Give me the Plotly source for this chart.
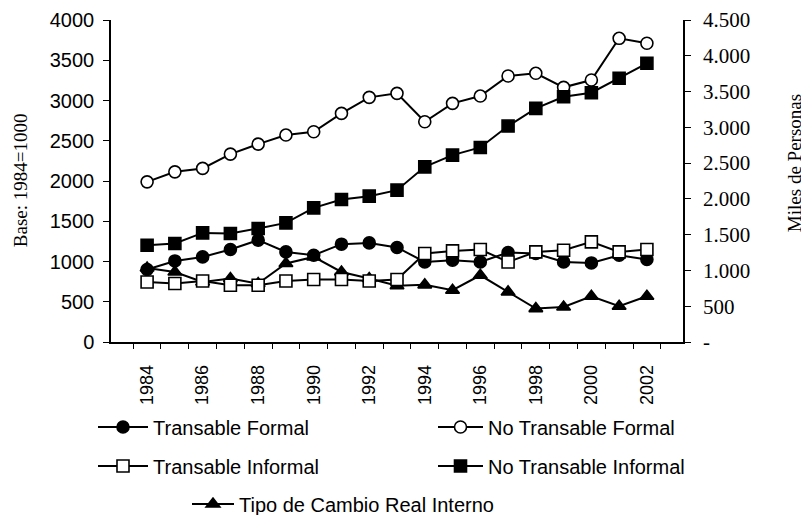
import plotly.graph_objects as go

years = list(range(1984, 2003))
transable_formal = [1013, 1133, 1189, 1293, 1423, 1259, 1213, 1367, 1385, 1321,
                    1119, 1143, 1119, 1251, 1237, 1119, 1105, 1213, 1153]
no_transable_formal = [2238, 2378, 2426, 2626, 2766, 2892, 2938, 3195, 3419, 3475,
                       3078, 3335, 3437, 3717, 3755, 3559, 3661, 4244, 4175]
transable_informal = [839, 817, 853, 793, 793, 853, 873, 873, 853, 873,
                      1237, 1273, 1293, 1119, 1259, 1283, 1399, 1259, 1293]
no_transable_informal = [1353, 1377, 1525, 1517, 1587, 1665, 1875, 1992, 2038, 2122,
                         2448, 2612, 2719, 3018, 3265, 3428, 3484, 3685, 3895]
tipo_cambio = [920, 870, 746, 788, 726, 975, 1057, 870, 788, 700,
               710, 643, 829, 622, 415, 435, 568, 444, 568]

year_labels = [str(y) for y in years]
year_ticktext = [str(y) if (y - 1984) % 2 == 0 else "" for y in years]
left_ticks = list(range(0, 4001, 500))
right_ticks = list(range(0, 4501, 500))
right_ticktext = ["-", "500", "1.000", "1.500", "2.000", "2.500", "3.000", "3.500", "4.000", "4.500"]

SANS = "Arial, Liberation Sans, sans-serif"
SERIF = "Times New Roman, Liberation Serif, serif"

W, H = 801, 507

fig = go.Figure()

def add(name, vals, symbol, fill, yaxis, legend):
    fig.add_trace(go.Scatter(
        x=year_labels, y=vals, name=name, mode="lines+markers", yaxis=yaxis,
        line=dict(color="black", width=2),
        marker=dict(symbol=symbol, size=12, color=fill,
                    line=dict(color="black", width=1.6)),
        legend=legend,
    ))

add("Transable Formal", transable_formal, "circle", "black", "y2", "legend")
add("No Transable Formal", no_transable_formal, "circle", "white", "y2", "legend2")
add("Transable Informal", transable_informal, "square", "white", "y2", "legend3")
add("No Transable Informal", no_transable_informal, "square", "black", "y2", "legend4")
add("Tipo de Cambio Real Interno", tipo_cambio, "triangle-up", "black", "y", "legend5")

def leg(x, y, iw):
    return dict(font=dict(family=SANS, size=20, color="black"),
                bgcolor="rgba(0,0,0,0)", xref="container", yref="container",
                xanchor="left", yanchor="middle", x=x / W, y=1 - y / H,
                itemwidth=iw)

n = len(years)
boundaries = [i - 0.5 for i in range(n + 1)]

fig.update_layout(
    width=W, height=H,
    margin=dict(l=103, r=126, t=12, b=173, autoexpand=False),
    paper_bgcolor="white", plot_bgcolor="white",
    showlegend=True,
    xaxis=dict(type="category", tickmode="array", tickvals=year_labels,
               ticktext=year_ticktext, tickangle=-90, tickson="boundaries",
               ticks="outside", ticklen=5, tickwidth=1, tickcolor="black",
               showline=True, linecolor="black", linewidth=1.5,
               showgrid=False, zeroline=False, automargin=False,
               ticklabelstandoff=14,
               tickfont=dict(family=SANS, size=18, color="black")),
    xaxis2=dict(overlaying="x", anchor="y", range=[-0.5, n - 0.5],
                tickmode="array", tickvals=boundaries, ticks="inside",
                ticklen=5, tickwidth=1, tickcolor="black",
                showticklabels=False, showline=False, showgrid=False,
                zeroline=False, automargin=False),
    yaxis=dict(range=[0, 4000], tickmode="array", tickvals=left_ticks,
               ticks="outside", ticklen=6, tickwidth=1, tickcolor="black",
               showline=True, linecolor="black", linewidth=1.5, showgrid=False,
               zeroline=False, automargin=False, ticklabelstandoff=5,
               tickfont=dict(family=SANS, size=20, color="black")),
    yaxis2=dict(range=[0, 4500], overlaying="y", side="right", anchor="x",
                tickmode="array", tickvals=right_ticks, ticktext=right_ticktext,
                ticks="outside", ticklen=6, tickwidth=1, tickcolor="black",
                showline=True, linecolor="black", linewidth=1.5, showgrid=False,
                zeroline=False, automargin=False, ticklabelstandoff=8,
                tickfont=dict(family=SERIF, size=21, color="black")),
    yaxis3=dict(range=[0, 4000], overlaying="y", anchor="x", tickmode="array",
                tickvals=left_ticks, ticks="inside", ticklen=6, tickwidth=1,
                tickcolor="black", showticklabels=False, showline=False,
                showgrid=False, zeroline=False, automargin=False),
    yaxis4=dict(range=[0, 4500], overlaying="y", side="right", anchor="x",
                tickmode="array", tickvals=right_ticks, ticks="inside",
                ticklen=6, tickwidth=1, tickcolor="black",
                showticklabels=False, showline=False, showgrid=False,
                zeroline=False, automargin=False),
    legend=leg(85, 419, 50),
    legend2=leg(425, 419, 45),
    legend3=leg(85, 458, 50),
    legend4=leg(425, 458, 45),
    legend5=leg(179, 496, 42),
    annotations=[
        dict(text="Base: 1984=1000", xref="paper", yref="paper",
             x=(20 - 111) / 572, y=(341.7 - 180) / 321.7, textangle=-90,
             xanchor="center", yanchor="middle", showarrow=False,
             font=dict(family=SERIF, size=19, color="black")),
        dict(text="Miles de Personas", xref="paper", yref="paper",
             x=(794 - 111) / 572, y=(341.7 - 163) / 321.7, textangle=-90,
             xanchor="center", yanchor="middle", showarrow=False,
             font=dict(family=SERIF, size=19, color="black")),
    ],
)

fig.write_html("out.html")
